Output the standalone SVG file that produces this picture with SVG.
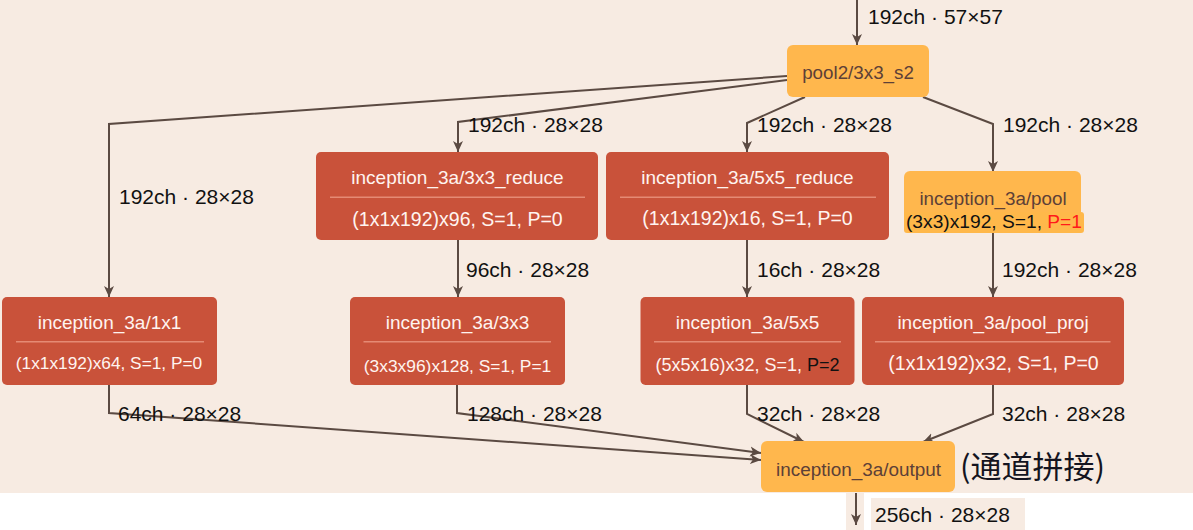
<svg xmlns="http://www.w3.org/2000/svg" width="1193" height="530" viewBox="0 0 1193 530">
<style>
.bg{fill:#F7EBE2}
.red{fill:#C9523A}
.org{fill:#FFB74D}
.div{stroke:#E58A74;stroke-width:1.5}
.t{font-family:"Liberation Sans",Arial,sans-serif;text-anchor:middle}
.wt{fill:#FFF4F0}
.dk{fill:#5D4037}
.lbl{font-family:"Liberation Sans",Arial,sans-serif;font-size:21px;fill:#111}
.edge{fill:none;stroke:#5B4A42;stroke-width:2}
</style>
<defs>
<marker id="ah" markerUnits="userSpaceOnUse" markerWidth="12" markerHeight="11" refX="11" refY="5" orient="auto" viewBox="0 0 12 10">
<path d="M0,0 L11,5 L0,10 L3,5 z" fill="#5B4A42"/>
</marker>
</defs>
<rect x="0" y="0" width="1193" height="530" fill="#FFFFFF"/>
<rect class="bg" x="0" y="0" width="1193" height="493"/>
<rect class="bg" x="846" y="493" width="18" height="37"/>
<rect class="bg" x="871" y="498" width="154" height="32"/>

<g id="connectors">
<path class="edge" d="M857,0 L857,45" marker-end="url(#ah)"/>
<path class="edge" d="M787,76 L109,124 L109,297" marker-end="url(#ah)"/>
<path class="edge" d="M787,80 L458,122 L458,152" marker-end="url(#ah)"/>
<path class="edge" d="M805,97 L747,123 L747,152" marker-end="url(#ah)"/>
<path class="edge" d="M923,97 L993,124 L993,172" marker-end="url(#ah)"/>
<path class="edge" d="M458,240 L458,297" marker-end="url(#ah)"/>
<path class="edge" d="M747,240 L747,297" marker-end="url(#ah)"/>
<path class="edge" d="M993,233 L993,297" marker-end="url(#ah)"/>
<path class="edge" d="M109,385 L109,413 L761,460" marker-end="url(#ah)"/>
<path class="edge" d="M457,385 L457,413 L761,453" marker-end="url(#ah)"/>
<path class="edge" d="M747,385 L747,414 L804,442" marker-end="url(#ah)"/>
<path class="edge" d="M993,385 L993,414 L923,442" marker-end="url(#ah)"/>
<path class="edge" d="M856,493 L856,525" marker-end="url(#ah)"/>
<text class="lbl" x="868" y="24">192ch · 57×57</text>
<text class="lbl" x="119" y="204">192ch · 28×28</text>
<text class="lbl" x="468" y="131.5">192ch · 28×28</text>
<text class="lbl" x="757" y="131.5">192ch · 28×28</text>
<text class="lbl" x="1003" y="131.5">192ch · 28×28</text>
<text class="lbl" x="466" y="276.5">96ch · 28×28</text>
<text class="lbl" x="757" y="276.5">16ch · 28×28</text>
<text class="lbl" x="1002" y="276.5">192ch · 28×28</text>
<text class="lbl" x="118" y="420.5">64ch · 28×28</text>
<text class="lbl" x="467" y="420.5">128ch · 28×28</text>
<text class="lbl" x="757" y="420.5">32ch · 28×28</text>
<text class="lbl" x="1002" y="420.5">32ch · 28×28</text>
<text class="lbl" x="875" y="521.5">256ch · 28×28</text>
</g>

<g id="pool2">
<rect class="org" x="787" y="45" width="142" height="52" rx="6"/>
<text class="t dk" x="858" y="78.5" font-size="18.8">pool2/3x3_s2</text>
</g>

<g id="reduce3">
<rect class="red" x="316" y="152" width="282" height="88" rx="5"/>
<line class="div" x1="330" y1="197.3" x2="585" y2="197.3"/>
<text class="t wt" x="457.5" y="184.3" font-size="19">inception_3a/3x3_reduce</text>
<text class="t wt" x="457.5" y="225.5" font-size="19.5">(1x1x192)x96, S=1, P=0</text>
</g>

<g id="reduce5">
<rect class="red" x="606" y="152" width="283" height="88" rx="5"/>
<line class="div" x1="620" y1="197.3" x2="876" y2="197.3"/>
<text class="t wt" x="747.5" y="184.3" font-size="19">inception_3a/5x5_reduce</text>
<text class="t wt" x="747.5" y="225" font-size="19.5">(1x1x192)x16, S=1, P=0</text>
</g>

<g id="pool">
<rect class="org" x="904" y="171" width="177" height="62" rx="6"/>
<rect x="904" y="212" width="180" height="21" rx="3" fill="#FFB84A"/>
<text class="t dk" x="993" y="205" font-size="18.8">inception_3a/pool</text>
<text class="t" x="994" y="228" font-size="19.2" fill="#111">(3x3)x192, S=1, <tspan fill="#FF1A1A">P=1</tspan></text>
</g>

<g id="conv1x1">
<rect class="red" x="2" y="297" width="215" height="88" rx="5"/>
<line class="div" x1="16" y1="341.7" x2="204" y2="341.7"/>
<text class="t wt" x="109.5" y="328.5" font-size="19">inception_3a/1x1</text>
<text class="t wt" x="109" y="368.5" font-size="17.3">(1x1x192)x64, S=1, P=0</text>
</g>

<g id="conv3x3">
<rect class="red" x="350" y="297" width="215" height="88" rx="5"/>
<line class="div" x1="363.5" y1="341.7" x2="551" y2="341.7"/>
<text class="t wt" x="457.5" y="328.5" font-size="19">inception_3a/3x3</text>
<text class="t wt" x="457.5" y="372" font-size="17.4">(3x3x96)x128, S=1, P=1</text>
</g>

<g id="conv5x5">
<rect class="red" x="640.5" y="297" width="214" height="88" rx="5"/>
<line class="div" x1="654" y1="341.7" x2="841" y2="341.7"/>
<text class="t wt" x="747.5" y="328.5" font-size="19">inception_3a/5x5</text>
<text class="t wt" x="747.5" y="371" font-size="18">(5x5x16)x32, S=1, <tspan fill="#111">P=2</tspan></text>
</g>

<g id="poolproj">
<rect class="red" x="862" y="297" width="262" height="88" rx="5"/>
<line class="div" x1="875" y1="341.7" x2="1110.5" y2="341.7"/>
<text class="t wt" x="993" y="328.5" font-size="19">inception_3a/pool_proj</text>
<text class="t wt" x="993.5" y="370" font-size="19.5">(1x1x192)x32, S=1, P=0</text>
</g>

<g id="output">
<rect class="org" x="761" y="441" width="194" height="51" rx="6"/>
<text class="t dk" x="858.5" y="475.5" font-size="18.9">inception_3a/output</text>
<text x="960" y="478" font-size="31" font-family="'Noto Sans CJK SC','Liberation Sans',sans-serif" fill="#141420">(通道拼接)</text>
</g>
</svg>
